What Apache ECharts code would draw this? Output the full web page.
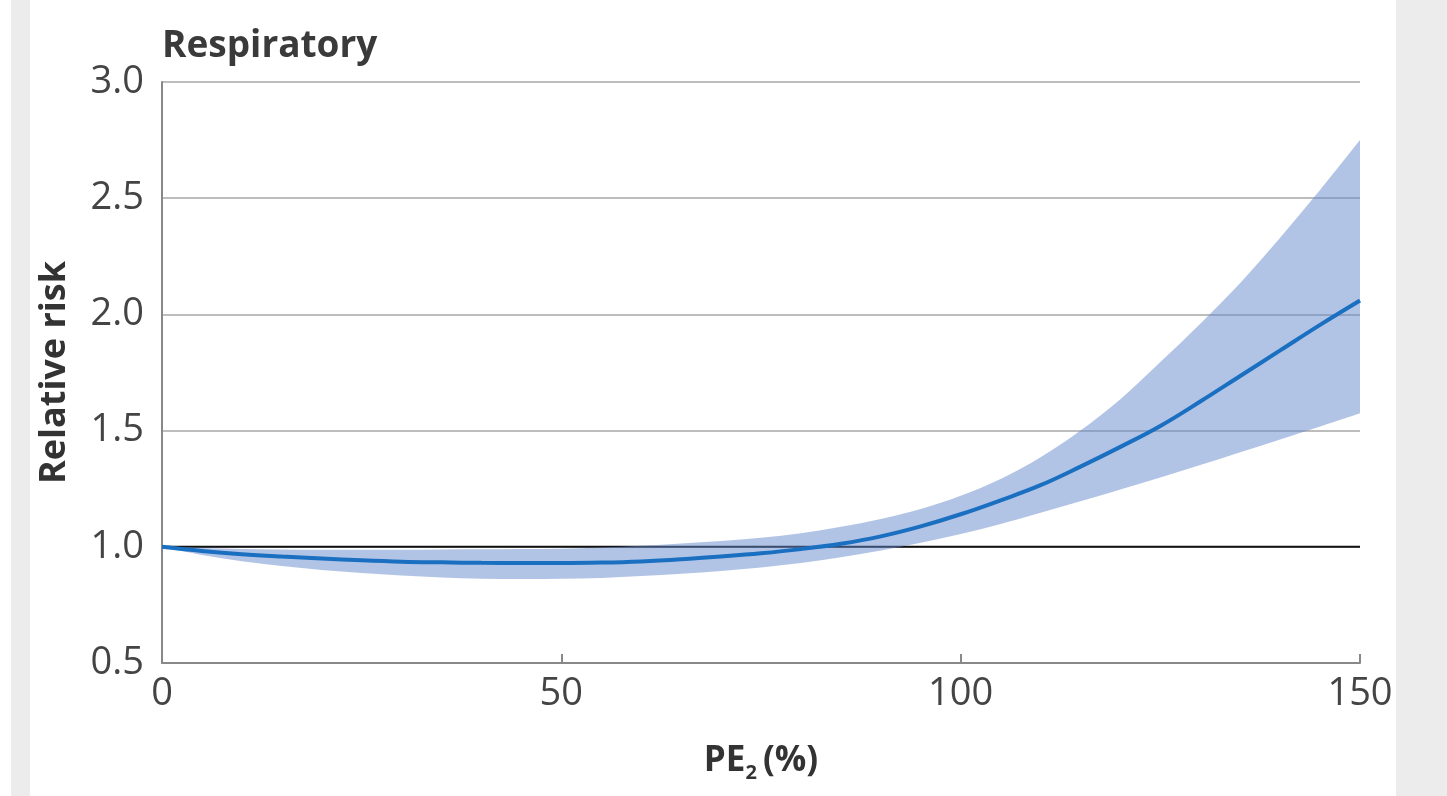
<!DOCTYPE html>
<html>
<head>
<meta charset="utf-8">
<title>Respiratory</title>
<script src="https://cdn.jsdelivr.net/npm/echarts@6/dist/echarts.min.js"></script>
<style>
  html, body { margin: 0; padding: 0; background: #fff; }
  #chart { width: 1447px; height: 796px; }
</style>
</head>
<body>
<div id="chart"></div>
<script>
// PE2 (%) sample points
var pe2 = [0, 5, 10, 15, 20, 25, 30, 35, 40, 45, 50, 55, 60, 65, 70, 75,
           80, 85, 90, 95, 100, 105, 110, 115, 120, 125, 130, 135, 140, 145, 150];
// relative risk estimate
var rr = [1.0, 0.982, 0.968, 0.958, 0.950, 0.942, 0.936, 0.933, 0.931, 0.930, 0.930, 0.932, 0.937, 0.946, 0.958, 0.972,
          0.990, 1.013, 1.045, 1.088, 1.14, 1.20, 1.265, 1.345, 1.43, 1.52, 1.625, 1.735, 1.845, 1.955, 2.06];
// 95% CI
var rrLow = [1.0, 0.965, 0.938, 0.917, 0.900, 0.887, 0.877, 0.868, 0.863, 0.861, 0.862, 0.866, 0.874, 0.884, 0.896, 0.911,
             0.930, 0.955, 0.984, 1.017, 1.055, 1.098, 1.146, 1.196, 1.247, 1.298, 1.352, 1.407, 1.462, 1.518, 1.575];
var rrHigh = [1.0, 0.995, 0.990, 0.988, 0.987, 0.987, 0.987, 0.988, 0.989, 0.99, 0.992, 0.997, 1.004, 1.014, 1.025, 1.039,
              1.058, 1.086, 1.12, 1.163, 1.22, 1.292, 1.385, 1.50, 1.635, 1.795, 1.96, 2.135, 2.33, 2.535, 2.75];
var refLevel = 1.0;
var xTicks = [0, 50, 100, 150];
var yTicks = [0.5, 1.0, 1.5, 2.0, 2.5, 3.0];

var chart = echarts.init(document.getElementById('chart'));

var midPts = pe2.map(function(x, i) { return [x, rr[i]]; });
var bandData = pe2.map(function(x, i) { return [x, rrLow[i], rrHigh[i]]; });
var refPts = [[xTicks[0], refLevel], [xTicks[xTicks.length - 1], refLevel]];

var font = '"Open Sans", "Noto Sans", sans-serif';

// catmull-rom through pixel points -> svg bezier segments
function curveTo(p) {
    var s = '';
    for (var i = 0; i < p.length - 1; i++) {
        var p0 = p[Math.max(i - 1, 0)], p1 = p[i], p2 = p[i + 1], p3 = p[Math.min(i + 2, p.length - 1)];
        var c1x = p1[0] + (p2[0] - p0[0]) / 6, c1y = p1[1] + (p2[1] - p0[1]) / 6;
        var c2x = p2[0] - (p3[0] - p1[0]) / 6, c2y = p2[1] - (p3[1] - p1[1]) / 6;
        s += ' C' + c1x + ' ' + c1y + ' ' + c2x + ' ' + c2y + ' ' + p2[0] + ' ' + p2[1];
    }
    return s;
}

// whole CI band drawn once
function renderBand(params, api) {
    if (params.dataIndex !== 0) return;
    var up = [], lo = [];
    for (var i = 0; i < bandData.length; i++) up.push(api.coord([bandData[i][0], bandData[i][2]]));
    for (var j = bandData.length - 1; j >= 0; j--) lo.push(api.coord([bandData[j][0], bandData[j][1]]));
    var d = 'M' + up[0][0] + ' ' + up[0][1] + curveTo(up) +
            ' L' + lo[0][0] + ' ' + lo[0][1] + curveTo(lo) + ' Z';
    return {
        type: 'path',
        shape: { pathData: d },
        style: { fill: 'rgba(100,137,205,0.5)' },
        silent: true
    };
}

chart.setOption({
    backgroundColor: '#fff',
    animation: false,
    graphic: [
        // grey page margins
        { type: 'rect', left: 11, top: 0, shape: { width: 19, height: 796 }, style: { fill: '#ececec' }, silent: true },
        { type: 'rect', left: 1396, top: 0, shape: { width: 51, height: 796 }, style: { fill: '#ececec' }, silent: true }
    ],
    title: {
        text: 'Respiratory',
        left: 157,
        top: 23,
        textStyle: { fontFamily: font, fontSize: 37, fontWeight: 'bold', color: '#3a3a3a' }
    },
    grid: { left: 162, right: 87, top: 82, bottom: 133 },
    xAxis: {
        type: 'value',
        min: xTicks[0],
        max: xTicks[xTicks.length - 1],
        interval: 50,
        name: 'PE{sub|2}(%)',
        nameLocation: 'middle',
        nameGap: 76,
        nameTextStyle: {
            fontFamily: font, fontSize: 35, fontWeight: 'bold', color: '#333',
            rich: { sub: { fontFamily: font, fontSize: 20, fontWeight: 'bold', color: '#333', padding: [24, 6, 0, 0] } }
        },
        axisLine: { onZero: false, lineStyle: { color: '#888', width: 2 } },
        axisTick: { inside: true, length: 9, lineStyle: { color: '#888', width: 2 } },
        axisLabel: { margin: 12, fontFamily: font, fontSize: 38, color: '#444' },
        splitLine: { show: false }
    },
    yAxis: {
        type: 'value',
        min: yTicks[0],
        max: yTicks[yTicks.length - 1],
        interval: 0.5,
        name: 'Relative risk',
        nameLocation: 'middle',
        nameGap: 89,
        nameTextStyle: { fontFamily: font, fontSize: 36, fontWeight: 'bold', color: '#333' },
        axisLine: { show: true, lineStyle: { color: '#888', width: 2 } },
        axisTick: { show: false },
        axisLabel: {
            margin: 18, fontFamily: font, fontSize: 38, color: '#444',
            formatter: function(v) { return v.toFixed(1); }
        },
        splitLine: { show: true, lineStyle: { color: '#bdbdbd', width: 2 } }
    },
    series: [{
        name: 'reference',
        type: 'line',
        data: refPts,
        symbol: 'none',
        lineStyle: { color: '#111', width: 2 },
        silent: true,
        z: 2
    }, {
        name: 'ci',
        type: 'custom',
        data: bandData,
        encode: { x: 0, y: [1, 2] },
        renderItem: renderBand,
        clip: true,
        silent: true,
        z: 3
    }, {
        name: 'rr',
        type: 'line',
        data: midPts,
        smooth: 0.4,
        symbol: 'none',
        lineStyle: { color: '#1a6fc0', width: 4 },
        z: 5
    }]
});
</script>
</body>
</html>
